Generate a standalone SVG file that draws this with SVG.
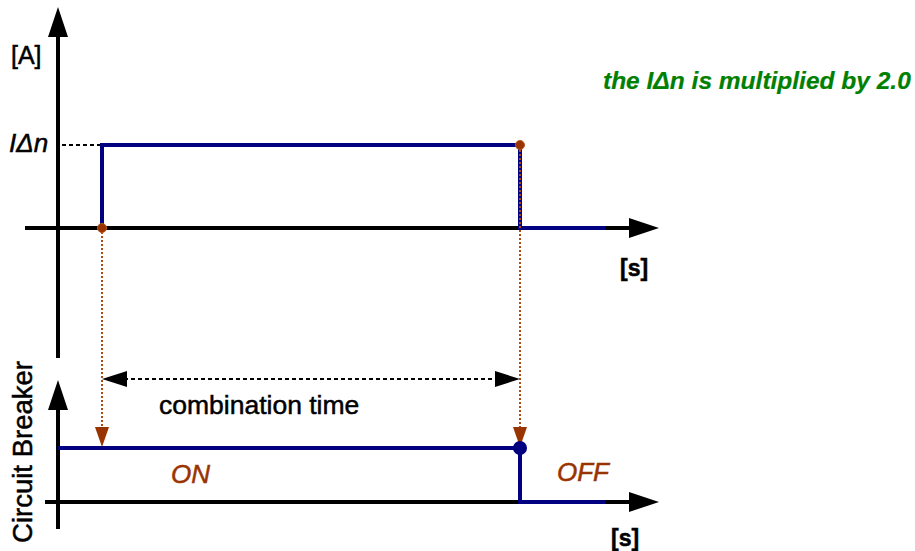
<svg xmlns="http://www.w3.org/2000/svg" width="915" height="551" viewBox="0 0 915 551">
<style>
.axis{stroke:#000;stroke-width:4;fill:none}
.head{fill:#000}
.sig{stroke:#000080;stroke-width:4;fill:none;stroke-linejoin:miter}
.guide{stroke:#000;stroke-width:2;stroke-dasharray:4,3;fill:none}
.drop{stroke:#b04a14;stroke-width:2;stroke-dasharray:2,2;fill:none}
.ohead{fill:#993300}
.t{font-family:"Liberation Sans",Arial,sans-serif;fill:#000;stroke:#000;stroke-width:0.5}
.b{font-weight:bold}
.i{font-style:italic}
.br{fill:#993300;stroke:#993300}
.gr{fill:#008000;stroke:#008000;stroke-width:0.2}
</style>
<rect width="915" height="551" fill="#fff"/>
<g id="axes">
<line class="axis" x1="58" y1="30" x2="58" y2="358"/>
<polygon class="head" points="58,7 48,37 68,37"/>
<line class="axis" x1="25" y1="228" x2="635" y2="228"/>
<polygon class="head" points="659,228 629,218 629,238"/>
<line class="axis" x1="58" y1="400" x2="58" y2="529"/>
<polygon class="head" points="58,380 48,410 68,410"/>
<line class="axis" x1="45" y1="502" x2="635" y2="502"/>
<polygon class="head" points="659,502 629,492 629,512"/>
</g>
<g id="connectors">
<line class="guide" x1="62" y1="145" x2="101" y2="145"/>
<line class="drop" x1="102" y1="232" x2="102" y2="428"/>
<polygon class="ohead" points="102,447 95,427 109,427"/>
<line class="guide" x1="124" y1="379" x2="498" y2="379"/>
<polygon class="head" points="102,379 127,371 127,387"/>
<polygon class="head" points="520,379 495,371 495,387"/>
</g>
<g id="signal-current">
<polyline class="sig" points="102,228 102,145 520,145 520,228 605,228"/>
</g>
<g id="signal-breaker">
<polyline class="sig" points="58,448 520,448 520,502 605,502"/>
</g>
<g id="drop-right">
<line class="drop" x1="520" y1="150" x2="520" y2="428"/>
<polygon class="ohead" points="520,447 513,427 527,427"/>
</g>
<g id="points">
<circle cx="102" cy="228" r="4.5" fill="#993300" stroke="#b35a1f" stroke-width="1"/>
<circle cx="520" cy="145" r="4.5" fill="#993300" stroke="#b35a1f" stroke-width="1"/>
<circle cx="520" cy="448" r="7" fill="#000080"/>
</g>
<g id="labels">
<text class="t" x="11" y="64" font-size="25">[A]</text>
<text class="t i" x="9" y="152" font-size="26">IΔn</text>
<text class="t b" x="620" y="276" font-size="23">[s]</text>
<text class="t b" x="611" y="546" font-size="23">[s]</text>
<text class="t" x="159" y="414" font-size="26.5">combination time</text>
<text class="t i br" x="171" y="483" font-size="26">ON</text>
<text class="t i br" x="557" y="481" font-size="26">OFF</text>
<text class="t" transform="translate(32,452) rotate(-90)" text-anchor="middle" font-size="27.5">Circuit Breaker</text>
<text class="t b i gr" x="603" y="89" font-size="24.5">the IΔn is multiplied by 2.0</text>
</g>
</svg>
